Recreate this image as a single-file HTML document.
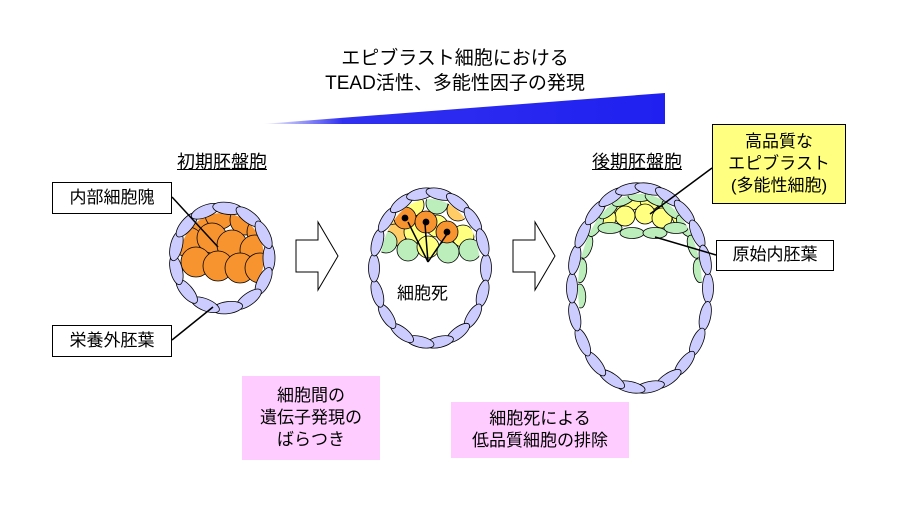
<!DOCTYPE html><html><head><meta charset="utf-8"><style>
body{margin:0;width:900px;height:507px;background:#fff;overflow:hidden;font-family:"Liberation Sans","Noto Sans CJK JP",sans-serif}
.t{position:absolute;color:#000;text-align:center;white-space:nowrap}
.box{position:absolute;border:1px solid #000;background:#fff;display:flex;align-items:center;justify-content:center;font-size:17px;text-align:center;line-height:1.3;white-space:nowrap}
</style></head><body>
<svg id="s" width="900" height="507" style="position:absolute;left:0;top:0">
<defs><linearGradient id="g" x1="0" x2="1"><stop offset="0" stop-color="#fff"/><stop offset="0.2" stop-color="#3030f0"/><stop offset="1" stop-color="#2020f0"/></linearGradient>
<clipPath id="c1"><ellipse cx="222" cy="258" rx="42" ry="45"/></clipPath>
<clipPath id="c2"><ellipse cx="430" cy="268" rx="50" ry="69"/></clipPath>
<clipPath id="c3"><ellipse cx="640" cy="288" rx="62" ry="94"/></clipPath></defs>
<polygon points="262,124 665,93 665,124" fill="url(#g)"/>
<g id="c1g" clip-path="url(#c1)"></g>
<g id="c2g" clip-path="url(#c2)"></g>
<g id="c3g" clip-path="url(#c3)"></g>
<g id="cells"></g>
<path d="M296,240 L318,240 L318,222 L338,256 L318,290 L318,272 L296,272 Z" fill="#fff" stroke="#000"/>
<path d="M513,240 L535,240 L535,222 L555,256 L535,290 L535,272 L513,272 Z" fill="#fff" stroke="#000"/>
<g stroke="#000" stroke-width="1.5">
<line x1="172" y1="197" x2="218" y2="247"/>
<line x1="172" y1="340" x2="213" y2="307"/>
<line x1="712" y1="168" x2="650" y2="214"/>
<line x1="716" y1="255" x2="655" y2="237"/>
<line x1="428" y1="262" x2="408" y2="222"/>
<line x1="428" y1="262" x2="425" y2="224"/>
<line x1="428" y1="262" x2="447" y2="234"/>
</g>
</svg>
<div class="t" style="left:255px;top:46px;width:400px;font-size:19px;line-height:25px">エピブラスト細胞における<br>TEAD活性、多能性因子の発現</div>
<div class="t" style="left:177px;top:148px;font-size:18px;text-decoration:underline">初期胚盤胞</div>
<div class="t" style="left:592px;top:148px;font-size:18px;text-decoration:underline">後期胚盤胞</div>
<div class="t" style="left:397px;top:279px;font-size:17px">細胞死</div>
<div class="box" style="left:52px;top:182px;width:118px;height:30px">内部細胞隗</div>
<div class="box" style="left:52px;top:325px;width:118px;height:30px">栄養外胚葉</div>
<div class="box" style="left:712px;top:124px;width:132px;height:78px;background:#ffff80">高品質な<br>エピブラスト<br>(多能性細胞)</div>
<div class="box" style="left:716px;top:240px;width:116px;height:29px">原始内胚葉</div>
<div class="box" style="left:242px;top:376px;width:138px;height:84px;border:none;background:#ffccff;font-size:17px">細胞間の<br>遺伝子発現の<br>ばらつき</div>
<div class="box" style="left:451px;top:402px;width:178px;height:56px;border:none;background:#ffccff;font-size:17px">細胞死による<br>低品質細胞の排除</div>
<script>
var NS='http://www.w3.org/2000/svg',g=document.getElementById('cells');
function el(p,t,a){var e=document.createElementNS(NS,t);for(var k in a)e.setAttribute(k,a[k]);e.setAttribute('stroke','#000');e.setAttribute('stroke-width','0.8');p.appendChild(e);return e;}
function ring(p,cx,cy,rx,ry,n,w,h,fill,t0,t1){t0=t0||0;t1=t1||360;for(var i=0;i<n;i++){var t=(t0+(t1-t0)*i/n)*Math.PI/180,x=cx+rx*Math.cos(t),y=cy+ry*Math.sin(t);var a=Math.atan2(ry*Math.cos(t),-rx*Math.sin(t))*180/Math.PI;el(p,'ellipse',{cx:x,cy:y,rx:w,ry:h,fill:fill,transform:'rotate('+a+' '+x+' '+y+')'});}}
var g1=document.getElementById('c1g');
[[198,220],[220,214],[245,220],[262,232],[188,242],[212,238],[232,245],[255,250],[196,262],[218,266],[240,268],[260,268]].forEach(function(p){el(g1,'circle',{cx:p[0],cy:p[1],r:15,fill:'#f79430'})});
ring(g,222,258,47,50,13,15,6,'#ccccff');
var g2=document.getElementById('c2g');
var c2=[[392,215,'#ffe680'],[413,205,'#ffff80'],[437,203,'#bbeebb'],[458,210,'#ffcc66'],[395,235,'#ffcc66'],[415,232,'#ffff80'],[437,226,'#ffff80'],[463,236,'#ffff80'],[386,242,'#bbeebb'],[408,250,'#bbeebb'],[428,247,'#ffff80'],[448,252,'#bbeebb'],[470,250,'#bbeebb'],[405,218,'#f79430'],[426,222,'#f79430'],[447,232,'#f79430']];
c2.forEach(function(p){el(g2,'circle',{cx:p[0],cy:p[1],r:11,fill:p[2]})});
[[405,218],[426,222],[447,232]].forEach(function(p){el(g,'circle',{cx:p[0],cy:p[1],r:3,fill:'#000'})});
ring(g,430,268,56,75,18,14,5.5,'#ccccff');
var g3=document.getElementById('c3g');
el(g3,'path',{d:'M570,225 Q640,170 712,225 L712,180 L570,180 Z',fill:'#ffff80'});
[[615,205],[632,200],[650,200],[668,206],[625,216],[645,214],[662,218],[606,218],[682,216]].forEach(function(p){el(g3,'circle',{cx:p[0],cy:p[1],r:10,fill:'#ffff80'})});
ring(g3,640,288,60,92,12,12,5.5,'#bbeebb',175,365);
[[610,228],[632,233],[655,233],[676,228]].forEach(function(p){el(g3,'ellipse',{cx:p[0],cy:p[1],rx:12,ry:5.5,fill:'#bbeebb'})});
ring(g,640,288,68,100,22,15,5.5,'#ccccff');
</script>
</body></html>
